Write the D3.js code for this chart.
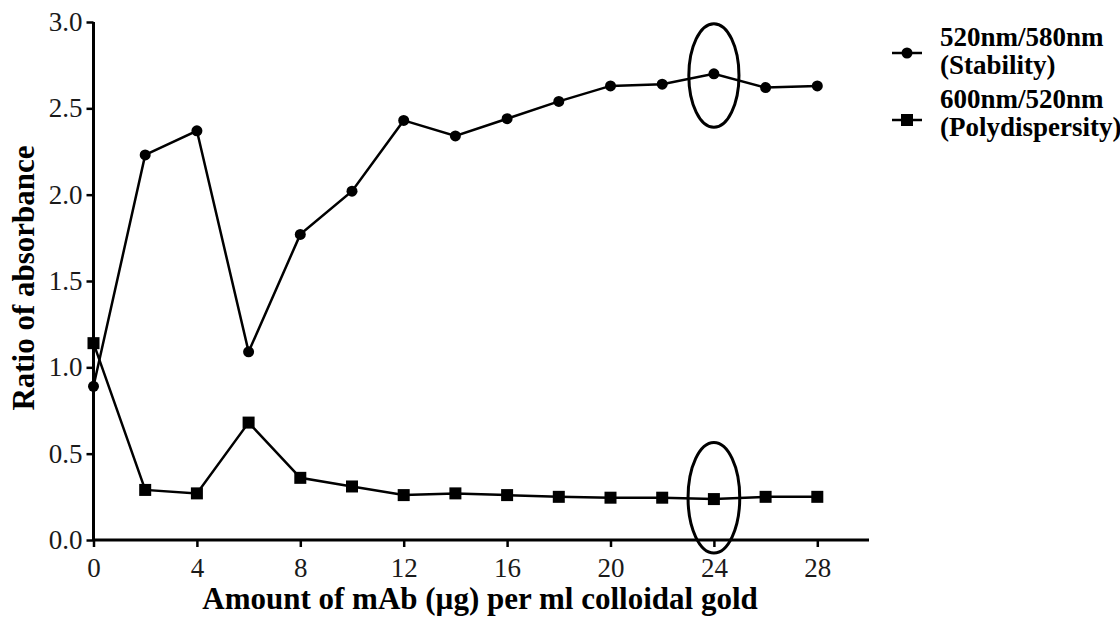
<!DOCTYPE html>
<meta charset="utf-8">
<style>
  body { margin: 0; background: #fff; }
</style>
<svg width="1120" height="620"></svg>
<script src="https://d3js.org/d3.v7.min.js"></script>
<script>
// data
var doses = [0, 2, 4, 6, 8, 10, 12, 14, 16, 18, 20, 22, 24, 26, 28];
var stability = [0.89, 2.23, 2.37, 1.09, 1.77, 2.02, 2.43, 2.34, 2.44, 2.54, 2.63, 2.64, 2.70, 2.62, 2.63];
var polydispersity = [1.14, 0.29, 0.27, 0.68, 0.36, 0.31, 0.26, 0.27, 0.26, 0.25, 0.245, 0.245, 0.237, 0.25, 0.25];
var xTicks = [0, 4, 8, 12, 16, 20, 24, 28];
var yTicks = [0, 0.5, 1.0, 1.5, 2.0, 2.5, 3.0];
var seriesNames = [["520nm/580nm", "(Stability)"], ["600nm/520nm", "(Polydispersity)"]];
// highlighted optimum at 24 ug: [x, y centre, x half width, y half height] in data units
var marks = [[24, 2.69, 0.97, 0.30], [24, 0.245, 1.0, 0.32]];

var serif = "'Liberation Serif'";
var svg = d3.select('svg').style('font-family', serif);

var x = d3.scaleLinear().domain([0, 30]).range([93.5, 869]);
var y = d3.scaleLinear().domain([0, 3]).range([540, 22]);

// axes
var xAxis = svg.append('g')
  .attr('transform', 'translate(0,' + y(0) + ')')
  .call(d3.axisBottom(x).tickValues(xTicks).tickSize(7).tickPadding(11).tickFormat(d3.format('d')));
var yAxis = svg.append('g')
  .attr('transform', 'translate(' + x(0) + ',0)')
  .call(d3.axisLeft(y).tickValues(yTicks).tickSize(7).tickPadding(4).tickFormat(d3.format('.1f')));

[xAxis, yAxis].forEach(function (a) {
  a.attr('font-family', 'Liberation Serif').attr('font-size', 27);
  a.select('.domain').attr('stroke', '#000').attr('stroke-width', 3);
  a.selectAll('.tick line').attr('stroke', '#000').attr('stroke-width', 2.5);
  a.selectAll('.tick text').attr('fill', '#1a1a1a')
    .style('font-family', serif).style('font-size', '27px');
});
xAxis.select('.domain').attr('d', 'M' + x(0) + ',0H' + x(30));
yAxis.select('.domain').attr('d', 'M0,' + y(0) + 'V' + y(3));

// titles
svg.append('text')
  .attr('x', 480).attr('y', 609)
  .attr('text-anchor', 'middle')
  .style('font-family', serif).style('font-size', '31px').style('font-weight', 'bold')
  .text('Amount of mAb (µg) per ml colloidal gold');

svg.append('text')
  .attr('transform', 'translate(34,278) rotate(-90)')
  .attr('text-anchor', 'middle')
  .style('font-family', serif).style('font-size', '31px').style('font-weight', 'bold')
  .text('Ratio of absorbance');

var line = d3.line().x(function (d) { return x(d[0]); }).y(function (d) { return y(d[1]); });

function drawSeries(values, shape) {
  var pts = doses.map(function (d, i) { return [d, values[i]]; });
  svg.append('path').datum(pts)
    .attr('d', line)
    .attr('fill', 'none').attr('stroke', '#000').attr('stroke-width', 2.5);
  var g = svg.append('g');
  if (shape === 'circle') {
    g.selectAll('circle').data(pts).enter().append('circle')
      .attr('cx', function (d) { return x(d[0]); })
      .attr('cy', function (d) { return y(d[1]); })
      .attr('r', 5.5).attr('fill', '#000');
  } else {
    g.selectAll('rect').data(pts).enter().append('rect')
      .attr('x', function (d) { return x(d[0]) - 6; })
      .attr('y', function (d) { return y(d[1]) - 6; })
      .attr('width', 12).attr('height', 12).attr('fill', '#000');
  }
}
drawSeries(stability, 'circle');
drawSeries(polydispersity, 'square');

// ellipses around the chosen dose
svg.selectAll('ellipse.mark').data(marks).enter().append('ellipse')
  .attr('cx', function (d) { return x(d[0]); })
  .attr('cy', function (d) { return y(d[1]); })
  .attr('rx', function (d) { return x(d[2]) - x(0); })
  .attr('ry', function (d) { return y(0) - y(d[3]); })
  .attr('fill', 'none').attr('stroke', '#000').attr('stroke-width', 3);

// legend
var legend = svg.append('g').attr('transform', 'translate(892,0)');
var legendY = [53, 120];
var textDy = [[-7, 21], [-12, 16]];
seriesNames.forEach(function (name, i) {
  var g = legend.append('g').attr('transform', 'translate(0,' + legendY[i] + ')');
  g.append('line').attr('x1', 0).attr('x2', 30).attr('stroke', '#000').attr('stroke-width', 2.5);
  if (i === 0) g.append('circle').attr('cx', 15).attr('r', 5.5).attr('fill', '#000');
  else g.append('rect').attr('x', 9).attr('y', -6).attr('width', 12).attr('height', 12).attr('fill', '#000');
  g.append('text').attr('x', 48).attr('y', textDy[i][0])
    .style('font-family', serif).style('font-size', '27px').style('font-weight', 'bold').text(name[0]);
  g.append('text').attr('x', 48).attr('y', textDy[i][1])
    .style('font-family', serif).style('font-size', '27px').style('font-weight', 'bold').text(name[1]);
});
</script>
